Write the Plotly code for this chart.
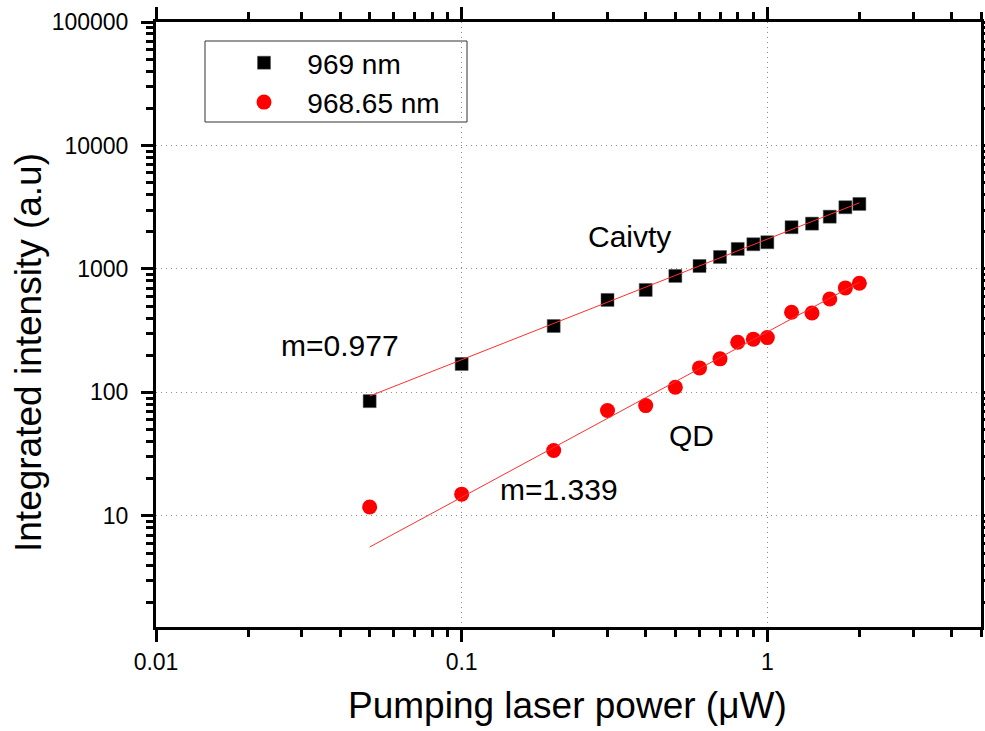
import numpy as np
import plotly.graph_objects as go

# Measured integrated intensity vs. pump power
power_uW = [0.05, 0.1, 0.2, 0.3, 0.4, 0.5, 0.6, 0.7, 0.8, 0.9, 1.0, 1.2, 1.4, 1.6, 1.8, 2.0]
cavity_969nm = [85, 170, 345, 561, 676, 878, 1057, 1250, 1452, 1585, 1645, 2177, 2328, 2650, 3160, 3360]
qd_968_65nm = [11.8, 15.0, 33.8, 71.3, 78.2, 110, 158, 187, 255, 270, 278, 446, 440, 571, 702, 766]

series_names = ["969 nm", "968.65 nm"]

# Power-law fits I = A * P^m (A given at P = 1 uW)
fit_slopes = [0.977, 1.339]
fit_amp_at_1uW = [1744, 309]
fit_range = [0.05, 2.0]

# Axis ticks
x_tickvals = [0.01, 0.1, 1]
x_ticktext = ["0.01", "0.1", "1"]
y_tickvals = [10, 100, 1000, 10000, 100000]
y_ticktext = ["10", "100", "1000", "10000", "100000"]

# Text labels placed on the plot (log10 coordinates)
label_text = ["Caivty", "m=0.977", "QD", "m=1.339"]
label_logx = [-0.452, -1.398, -0.248, -0.683]
label_logy = [3.265, 2.380, 1.651, 1.214]

FONT = "Arial, Liberation Sans, sans-serif"

# plot-area geometry in pixels (used for paper-coordinate placements)
PX_L, PX_T, PX_W, PX_H = 156, 22, 825, 605


def paper_x(px):
    return (px - PX_L) / PX_W


def paper_y(py):
    return 1 - (py - PX_T) / PX_H


fig = go.Figure()

fig.add_trace(go.Scatter(
    x=power_uW, y=cavity_969nm, mode="markers",
    name="\u00a0\u00a0\u00a0" + series_names[0],
    marker=dict(symbol="square", size=13, color="black",
                line=dict(color="#555555", width=0.5)),
))
fig.add_trace(go.Scatter(
    x=power_uW, y=qd_968_65nm, mode="markers",
    name="\u00a0\u00a0\u00a0" + series_names[1],
    marker=dict(symbol="circle", size=15, color="red", line=dict(width=0)),
))

xf = np.array(fit_range)
for m, a in zip(fit_slopes, fit_amp_at_1uW):
    fig.add_trace(go.Scatter(
        x=xf, y=a * xf ** m, mode="lines", showlegend=False,
        line=dict(color="#ff3030", width=1), hoverinfo="skip",
    ))

for t, lx, ly in zip(label_text, label_logx, label_logy):
    fig.add_annotation(x=lx, y=ly, xref="x", yref="y", text=t, showarrow=False,
                       xanchor="center", yanchor="middle",
                       font=dict(family=FONT, size=30, color="black"))

# axis titles
fig.add_annotation(x=paper_x(567), y=paper_y(705), xref="paper", yref="paper",
                   text="Pumping laser power (\u03bcW)", showarrow=False,
                   xanchor="center", yanchor="middle",
                   font=dict(family=FONT, size=37, color="black"))
fig.add_annotation(x=paper_x(28), y=paper_y(353), xref="paper", yref="paper",
                   text="Integrated intensity (a.u)", showarrow=False, textangle=-90,
                   xanchor="center", yanchor="middle",
                   font=dict(family=FONT, size=37, color="black"))

axis_common = dict(
    type="log", showline=True, linewidth=3, linecolor="black", mirror="ticks",
    ticks="outside", ticklen=12, tickwidth=3, tickcolor="black",
    showgrid=True, gridcolor="#8c8c8c", griddash="1px,4px", gridwidth=1,
    zeroline=False, automargin=False,
    tickfont=dict(family=FONT, size=23, color="black"),
    minor=dict(ticks="outside", ticklen=7, tickwidth=2.5, tickcolor="black",
               dtick="D1", showgrid=False),
)

fig.update_xaxes(**axis_common, range=[-2, np.log10(5)],
                 tickmode="array", tickvals=x_tickvals, ticktext=x_ticktext,
                 ticklabelstandoff=0)
fig.update_yaxes(**axis_common, range=[0.1, 5.0],
                 tickmode="array", tickvals=y_tickvals, ticktext=y_ticktext,
                 ticklabelstandoff=8)

# legend frame
fig.add_shape(type="rect", xref="paper", yref="paper",
              x0=paper_x(205), x1=paper_x(467), y0=paper_y(122), y1=paper_y(41),
              line=dict(color="#333333", width=1), fillcolor="white", layer="below")

fig.update_layout(
    width=985, height=731,
    margin=dict(l=PX_L, r=985 - PX_L - PX_W, t=PX_T, b=731 - PX_T - PX_H),
    paper_bgcolor="white", plot_bgcolor="rgba(0,0,0,0)",
    font=dict(family=FONT, color="black"),
    showlegend=True,
    legend=dict(x=paper_x(244), y=paper_y(38),
                xanchor="left", yanchor="top",
                bgcolor="rgba(0,0,0,0)", borderwidth=0,
                font=dict(family=FONT, size=28, color="black"),
                tracegroupgap=0),
)

fig.write_html("out.html")
